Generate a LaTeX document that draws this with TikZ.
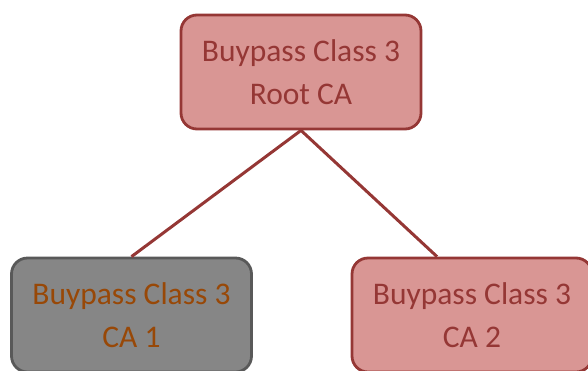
\documentclass[tikz,border=0pt]{standalone}
\usepackage{fontspec}
\setmainfont{Carlito}
\definecolor{rootfill}{HTML}{D99694}
\definecolor{darkred}{HTML}{953735}
\definecolor{greyfill}{HTML}{868686}
\definecolor{greyline}{HTML}{595959}
\definecolor{brown}{HTML}{984807}
\tikzset{
  cabox/.style={draw=darkred, fill=rootfill, line width=2.8pt, rounded corners=16pt,
    minimum width=240pt, minimum height=114pt, align=center, text=darkred,
    font=\fontsize{31.5}{43}\selectfont, inner sep=0pt},
  greybox/.style={cabox, draw=greyline, fill=greyfill, text=brown},
  link/.style={draw=darkred, line width=3pt}
}
\begin{document}
\begin{tikzpicture}[x=1pt,y=-1pt]
\clip (0,0) rectangle (588,370);
\useasboundingbox (0,0) rectangle (588,370);
\node[cabox] (root) at (301,72) {Buypass Class 3\\Root CA};
\node[greybox] (ca1) at (131.5,315) {Buypass Class 3\\CA 1};
\node[cabox] (ca2) at (472,315) {Buypass Class 3\\CA 2};
\draw[link] (root.south) -- (ca1.north);
\draw[link] (root.south) -- ([xshift=-35pt]ca2.north);
\end{tikzpicture}
\end{document}
